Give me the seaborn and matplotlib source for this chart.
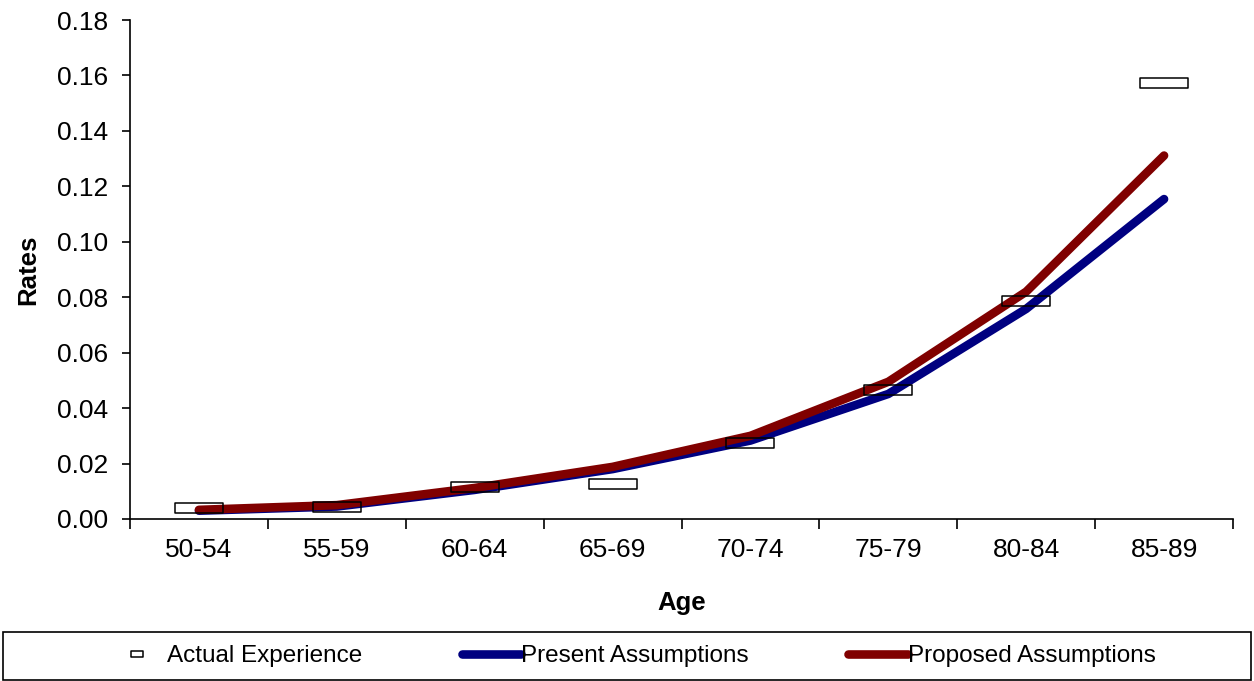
import numpy as np
import pandas as pd
import matplotlib
matplotlib.use("Agg")
import matplotlib.pyplot as plt
from matplotlib.path import Path
from matplotlib.lines import Line2D
from matplotlib.patches import Rectangle
import seaborn as sns

# Age bands and rates
ages = ["50-54", "55-59", "60-64", "65-69", "70-74", "75-79", "80-84", "85-89"]
actual = [0.0039, 0.0044, 0.0114, 0.0125, 0.0274, 0.0464, 0.0787, 0.1573]
present = [0.0030, 0.0045, 0.0105, 0.0180, 0.0283, 0.0451, 0.0758, 0.1154]
proposed = [0.0033, 0.0050, 0.0112, 0.0188, 0.0300, 0.0495, 0.0820, 0.1311]
y_ticks = [0.00, 0.02, 0.04, 0.06, 0.08, 0.10, 0.12, 0.14, 0.16, 0.18]

sns.set_theme(style="white")
plt.rcParams["font.family"] = ["Liberation Sans", "DejaVu Sans"]

BLUE = "#000080"
RED = "#800000"

lines = pd.DataFrame({
    "Age": ages * 2,
    "Rate": present + proposed,
    "Series": ["Present Assumptions"] * len(ages) + ["Proposed Assumptions"] * len(ages),
})
pos = np.arange(len(ages))
lines["x"] = np.tile(pos, 2)

fig = plt.figure(figsize=(12.54, 6.81), dpi=100)
ax = fig.add_axes([130 / 1254, 1 - 519 / 681, (1233 - 130) / 1254, (519 - 20) / 681])

sns.lineplot(data=lines, x="x", y="Rate", hue="Series",
             palette={"Present Assumptions": BLUE, "Proposed Assumptions": RED},
             linewidth=6.2, solid_capstyle="round", legend=False, ax=ax, zorder=2)

# hollow wide rectangle marker for the observed rates
rect = Path([(-2.4, -0.5), (2.4, -0.5), (2.4, 0.5), (-2.4, 0.5), (-2.4, -0.5)],
            [Path.MOVETO, Path.LINETO, Path.LINETO, Path.LINETO, Path.CLOSEPOLY])
sns.scatterplot(x=pos, y=actual, marker=rect, s=34.6 ** 2, facecolor="none",
                edgecolor="black", linewidth=1.1, ax=ax, zorder=3, legend=False)

ax.set_xlim(-0.5, len(ages) - 0.5)
ax.set_ylim(0, 0.18)
ax.set_yticks(y_ticks)
ax.set_yticklabels([f"{v:.2f}" for v in y_ticks])
ax.set_xticks(np.arange(-0.5, len(ages)), minor=False)
ax.set_xticklabels([])
ax.set_xticks(pos, minor=True)
ax.set_xticklabels(ages, minor=True)
ax.tick_params(axis="x", which="major", direction="out", length=7, width=1.2, color="black")
ax.tick_params(axis="x", which="minor", length=0, pad=14, labelsize=19, labelcolor="black")
ax.tick_params(axis="y", direction="out", length=6, width=1.2, color="black",
               pad=10, labelsize=19, labelcolor="black")
ax.tick_params(left=True, bottom=True)

for side in ["top", "right"]:
    ax.spines[side].set_visible(False)
for side in ["left", "bottom"]:
    ax.spines[side].set_color("black")
    ax.spines[side].set_linewidth(1.2)

ax.set_xlabel("Age", fontsize=18.5, fontweight="bold", color="black", labelpad=20.5)
ax.set_ylabel("Rates", fontsize=18.5, fontweight="bold", color="black", labelpad=12)

# legend box across the bottom of the figure
fig.patches.append(Rectangle((3 / 1254, 1 - 680 / 681), 1248 / 1254, 48 / 681,
                             transform=fig.transFigure, facecolor="white",
                             edgecolor="black", linewidth=1.2, zorder=0))
small_rect = Path([(-1.0, -0.45), (1.0, -0.45), (1.0, 0.45), (-1.0, 0.45), (-1.0, -0.45)],
                  [Path.MOVETO, Path.LINETO, Path.LINETO, Path.LINETO, Path.CLOSEPOLY])
handles = [
    Line2D([], [], linestyle="none", marker=small_rect, markersize=9,
           markerfacecolor="white", markeredgecolor="black", markeredgewidth=1.1),
    Line2D([], [], color=BLUE, linewidth=6.2, solid_capstyle="round"),
    Line2D([], [], color=RED, linewidth=6.2, solid_capstyle="round"),
]
labels = ["Actual Experience", "Present Assumptions", "Proposed Assumptions"]
fig.legend(handles, labels, ncol=3, frameon=False, loc="center",
           bbox_to_anchor=(631.5 / 1254, 1 - 656 / 681), fontsize=17.5,
           handlelength=2.45, handletextpad=0.0, columnspacing=4.1,
           borderpad=0, labelcolor="black")

fig.savefig("out.png", dpi=100, facecolor="white")
